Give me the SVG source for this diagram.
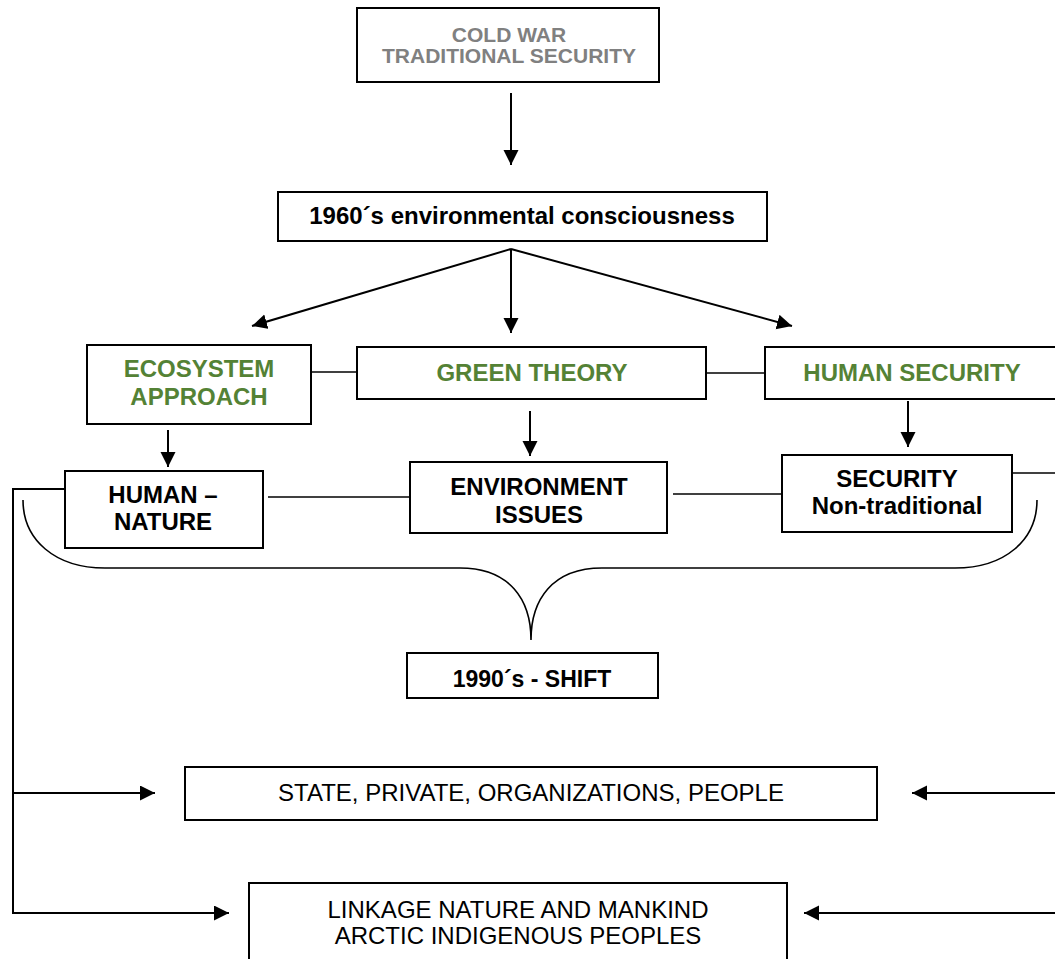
<svg xmlns="http://www.w3.org/2000/svg" width="1055" height="959" viewBox="0 0 1055 959">
  <style>
    .box { fill: #ffffff; stroke: #000000; stroke-width: 2; }
    .t { font-family: "Liberation Sans", Arial, sans-serif; font-size: 24px; text-anchor: middle; }
    .b { font-weight: bold; fill: #000000; }
    .g { font-weight: bold; fill: #548235; }
    .grey { font-weight: bold; fill: #808080; font-size: 21px; }
    .r { fill: #000000; }
    .line { fill: none; stroke: #000000; stroke-width: 2; }
    .thin { fill: none; stroke: #000000; stroke-width: 1.6; }
  </style>
  <defs>
    <marker id="arrow" markerUnits="userSpaceOnUse" markerWidth="16" markerHeight="16" refX="15" refY="7.5" orient="auto">
      <path d="M0,0 L15,7.5 L0,15 z" fill="#000000"/>
    </marker>
  </defs>

  <rect width="1055" height="959" fill="#ffffff"/>

  <!-- connectors -->
  <g id="connectors">
    <path class="line" d="M511,93 V165" marker-end="url(#arrow)"/>
    <path class="line" d="M511,249 L252,326" marker-end="url(#arrow)"/>
    <path class="line" d="M511,249 V333" marker-end="url(#arrow)"/>
    <path class="line" d="M511,249 L792,326" marker-end="url(#arrow)"/>
    <path class="thin" d="M311,372 H357"/>
    <path class="thin" d="M706,373 H765"/>
    <path class="line" d="M168,430 V467" marker-end="url(#arrow)"/>
    <path class="line" d="M530,411 V456" marker-end="url(#arrow)"/>
    <path class="line" d="M908,401 V447" marker-end="url(#arrow)"/>
    <path class="thin" d="M268,497 H410"/>
    <path class="thin" d="M673,494 H782"/>
    <path class="thin" d="M1012,473 H1055"/>
    <path class="thin" d="M23,500 C23,540 55,568 105,568 L460,568 C510,568 531,600 531,640 C531,600 552,568 602,568 L955,568 C1005,568 1037,540 1037,500"/>
    <path class="line" d="M65,489 H13 V913 H229" marker-end="url(#arrow)"/>
    <path class="line" d="M13,793 H155" marker-end="url(#arrow)"/>
    <path class="line" d="M1055,793 H912" marker-end="url(#arrow)"/>
    <path class="line" d="M1055,913 H804" marker-end="url(#arrow)"/>
  </g>

  <g id="cold-war">
    <rect class="box" x="357" y="8" width="302" height="74"/>
    <text class="t grey" x="509" y="42">COLD WAR</text>
    <text class="t grey" x="509" y="63">TRADITIONAL SECURITY</text>
  </g>

  <g id="consciousness-1960s">
    <rect class="box" x="278" y="192" width="489" height="49"/>
    <text class="t b" x="522" y="224">1960´s environmental consciousness</text>
  </g>

  <g id="ecosystem-approach">
    <rect class="box" x="87" y="345" width="224" height="79"/>
    <text class="t g" x="199" y="377">ECOSYSTEM</text>
    <text class="t g" x="199" y="405">APPROACH</text>
  </g>

  <g id="green-theory">
    <rect class="box" x="357" y="347" width="349" height="52"/>
    <text class="t g" x="532" y="381">GREEN THEORY</text>
  </g>

  <g id="human-security">
    <rect class="box" x="765" y="347" width="300" height="52"/>
    <text class="t g" x="912" y="381">HUMAN SECURITY</text>
  </g>

  <g id="human-nature">
    <rect class="box" x="65" y="471" width="198" height="77"/>
    <text class="t b" x="163" y="503">HUMAN –</text>
    <text class="t b" x="163" y="530">NATURE</text>
  </g>

  <g id="environment-issues">
    <rect class="box" x="410" y="462" width="257" height="71"/>
    <text class="t b" x="539" y="495">ENVIRONMENT</text>
    <text class="t b" x="539" y="523">ISSUES</text>
  </g>

  <g id="security-non-traditional">
    <rect class="box" x="782" y="455" width="230" height="77"/>
    <text class="t b" x="897" y="487">SECURITY</text>
    <text class="t b" x="897" y="514">Non-traditional</text>
  </g>

  <g id="shift-1990s">
    <rect class="box" x="407" y="653" width="251" height="45"/>
    <text class="t b" x="532" y="687" style="font-size:23px">1990´s - SHIFT</text>
  </g>

  <g id="actors">
    <rect class="box" x="185" y="767" width="692" height="53"/>
    <text class="t r" x="531" y="801">STATE, PRIVATE, ORGANIZATIONS, PEOPLE</text>
  </g>

  <g id="linkage">
    <rect class="box" x="249" y="883" width="538" height="90"/>
    <text class="t r" x="518" y="918">LINKAGE NATURE AND MANKIND</text>
    <text class="t r" x="518" y="944">ARCTIC INDIGENOUS PEOPLES</text>
  </g>
</svg>
